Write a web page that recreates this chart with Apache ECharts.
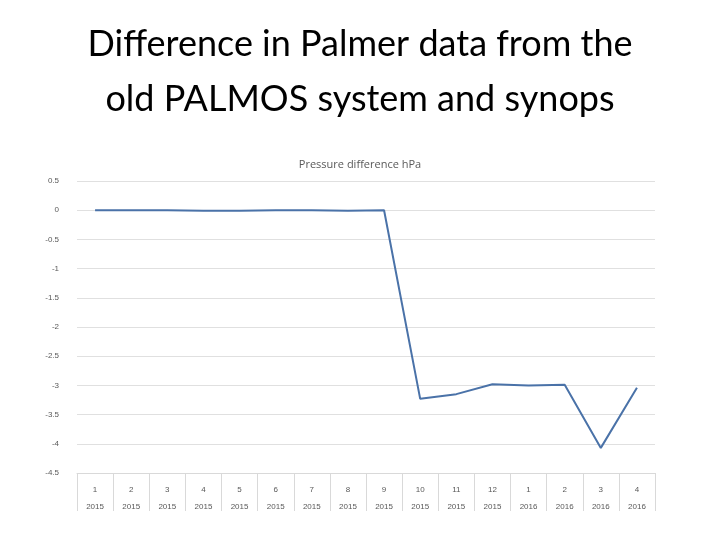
<!DOCTYPE html>
<html><head><meta charset="utf-8">
<script src="https://cdn.jsdelivr.net/npm/echarts@6/dist/echarts.min.js"></script>
<style>html,body{margin:0;padding:0;background:#fff}#c{width:720px;height:540px}</style>
</head><body><div id="c"></div>
<script>
const months = ['1','2','3','4','5','6','7','8','9','10','11','12','1','2','3','4'];
const years = ['2015','2015','2015','2015','2015','2015','2015','2015','2015','2015','2015','2015','2016','2016','2016','2016'];
const pressureDiff = [0, 0, 0, -0.01, -0.01, 0, 0, -0.01, 0, -3.23, -3.15, -2.98, -3.0, -2.99, -4.07, -3.04];
const categories = months.map((m, i) => m + '\n' + years[i]);
const chart = echarts.init(document.getElementById('c'));
chart.setOption({
  animation: false,
  title: [
    {text: 'Difference in Palmer data from the\nold PALMOS system and synops', left: 'center', top: 12,
     textStyle: {fontFamily: 'Lato', fontWeight: 'normal', fontSize: 36, lineHeight: 55, color: '#000'}},
    {text: 'Pressure difference hPa', left: 'center', top: 154,
     textStyle: {fontFamily: 'Open Sans', fontWeight: 'normal', fontSize: 11, color: '#595959'}}
  ],
  grid: {left: 77, right: 65, top: 181, bottom: 67},
  xAxis: {type: 'category', data: categories, boundaryGap: true,
    axisLine: {onZero: false, lineStyle: {color: '#d9d9d9'}},
    axisTick: {show: true, length: 38, lineStyle: {color: '#d9d9d9'}},
    axisLabel: {color: '#595959', fontSize: 8, lineHeight: 17, margin: 8, interval: 0}},
  yAxis: {type: 'value', min: -4.5, max: 0.5, interval: 0.5,
    axisLine: {show: false}, axisTick: {show: false},
    splitLine: {lineStyle: {color: '#e0e0e0'}},
    axisLabel: {color: '#595959', fontSize: 8, margin: 18}},
  series: [{type: 'line', data: pressureDiff, symbol: 'none',
    lineStyle: {color: '#4a72a8', width: 2}}]
});
</script></body></html>
